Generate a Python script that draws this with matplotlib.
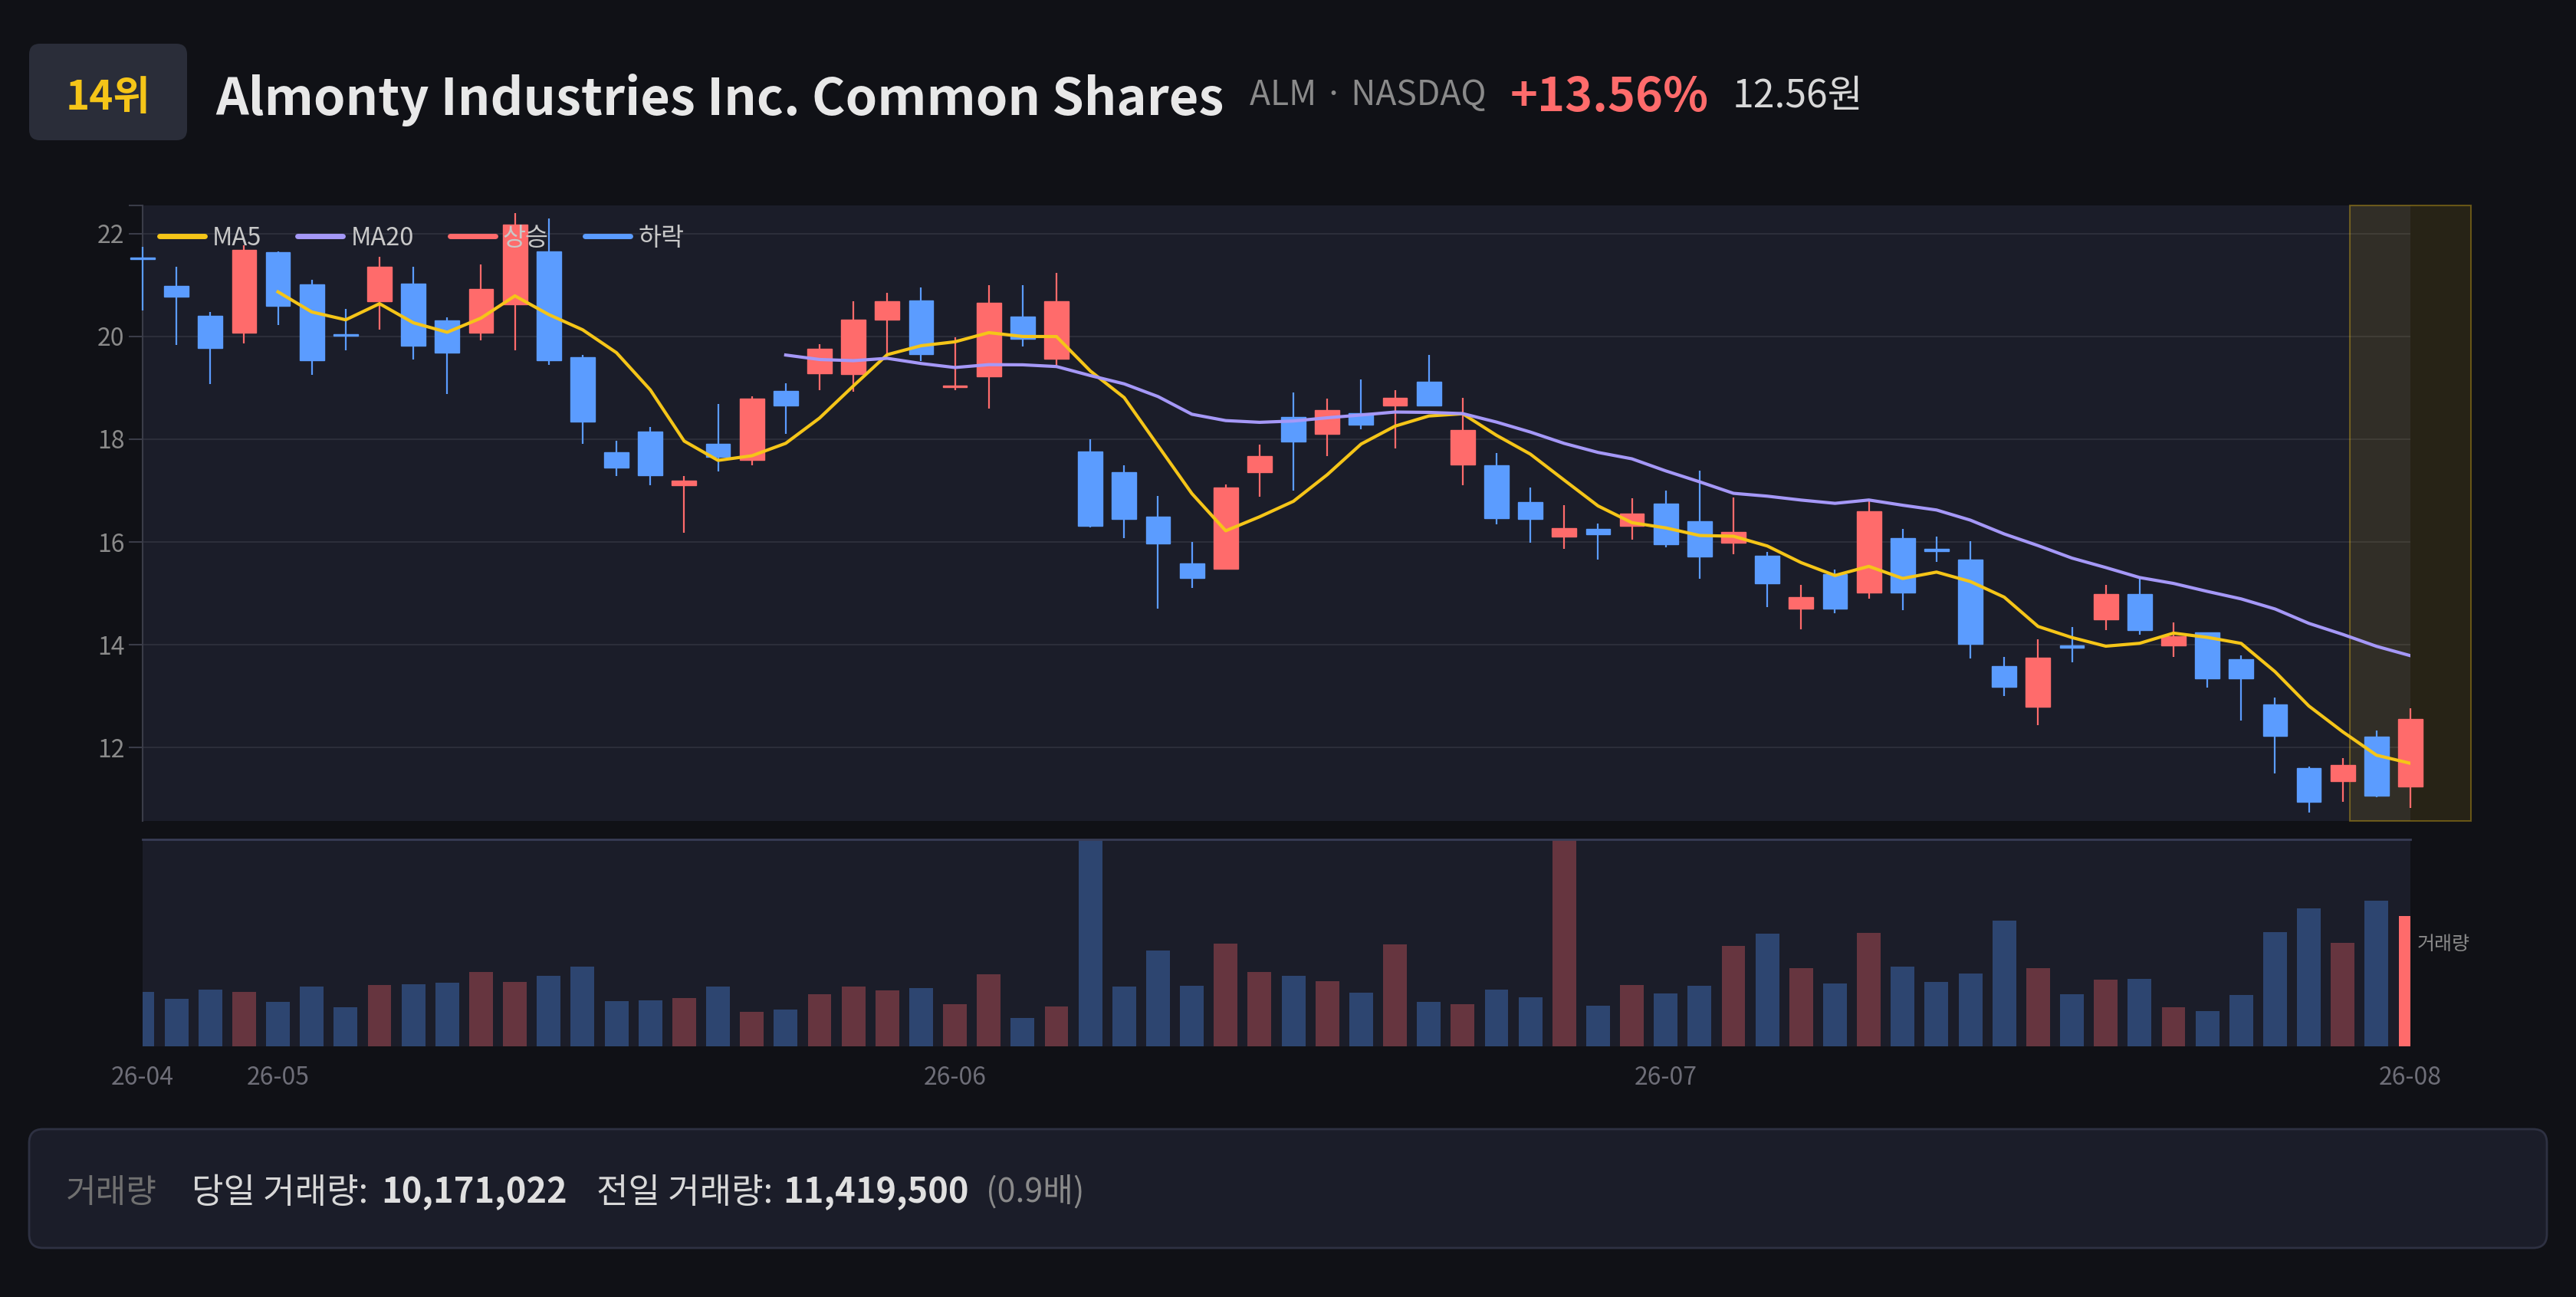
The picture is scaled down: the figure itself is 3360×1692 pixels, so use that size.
import numpy as np
import pandas as pd
import matplotlib.pyplot as plt
from matplotlib.patches import FancyBboxPatch, Rectangle
from matplotlib.lines import Line2D
from matplotlib.transforms import IdentityTransform

plt.rcParams['font.family'] = ['Noto Sans CJK KR', 'DejaVu Sans']

# daily candles (2026-04-27 .. 2026-08-03)
opens = [21.52, 20.98, 20.40, 20.08, 21.64, 21.01, 20.05, 20.69, 21.03, 20.31,
         20.08, 20.62, 21.66, 19.60, 17.75, 18.15, 17.10, 17.91, 17.60, 18.94,
         19.28, 19.27, 20.33, 20.70, 19.02, 19.22, 20.38, 19.56, 17.76, 17.36,
         16.49, 15.59, 15.48, 17.36, 18.43, 18.10, 18.50, 18.66, 19.12, 17.50,
         17.49, 16.78, 16.10, 16.26, 16.32, 16.75, 16.40, 15.99, 15.73, 14.71,
         15.38, 15.01, 16.07, 15.86, 15.66, 13.58, 12.80, 13.98, 14.50, 14.98,
         13.98, 14.24, 13.72, 12.84, 11.60, 11.34, 12.21, 11.24]
closes = [21.50, 20.78, 19.78, 21.68, 20.60, 19.54, 20.02, 21.35, 19.82, 19.68,
          20.92, 22.18, 19.53, 18.34, 17.45, 17.30, 17.20, 17.65, 18.79, 18.66,
          19.76, 20.33, 20.69, 19.66, 19.04, 20.65, 19.96, 20.68, 16.31, 16.45,
          15.97, 15.30, 17.06, 17.67, 17.96, 18.56, 18.28, 18.80, 18.66, 18.18,
          16.46, 16.45, 16.27, 16.15, 16.55, 15.95, 15.71, 16.20, 15.20, 14.93,
          14.70, 16.60, 15.02, 15.82, 14.01, 13.18, 13.75, 13.94, 14.98, 14.29,
          14.17, 13.34, 13.35, 12.23, 10.95, 11.66, 11.06, 12.56]
highs = [21.75, 21.35, 20.47, 21.78, 21.65, 21.10, 20.53, 21.55, 21.35, 20.37,
         21.40, 22.40, 22.30, 19.64, 17.97, 18.24, 17.28, 18.68, 18.83, 19.09,
         19.85, 20.68, 20.85, 20.95, 19.99, 21.00, 21.00, 21.24, 18.00, 17.49,
         16.89, 16.00, 17.12, 17.90, 18.91, 18.79, 19.16, 18.95, 19.64, 18.80,
         17.73, 17.06, 16.71, 16.36, 16.85, 17.00, 17.39, 16.87, 15.81, 15.16,
         15.47, 16.79, 16.26, 16.11, 16.02, 13.76, 14.11, 14.34, 15.16, 15.29,
         14.44, 14.24, 13.79, 12.97, 11.63, 11.80, 12.33, 12.76]
lows = [20.50, 19.83, 19.08, 19.86, 20.23, 19.26, 19.73, 20.14, 19.55, 18.88,
        19.92, 19.73, 19.45, 17.91, 17.28, 17.10, 16.18, 17.37, 17.49, 18.10,
        18.96, 18.93, 19.64, 19.52, 18.95, 18.60, 19.81, 19.42, 16.29, 16.08,
        14.70, 15.11, 15.47, 16.88, 17.00, 17.67, 18.20, 17.82, 18.65, 17.10,
        16.34, 15.98, 15.86, 15.66, 16.04, 15.90, 15.29, 15.76, 14.73, 14.30,
        14.62, 14.90, 14.68, 15.61, 13.73, 13.00, 12.44, 13.66, 14.29, 14.20,
        13.76, 13.17, 12.52, 11.49, 10.74, 10.95, 11.03, 10.83]
volumes = [4.26e6, 3.70e6, 4.46e6, 4.26e6, 3.48e6, 4.68e6, 3.04e6, 4.78e6, 4.86e6, 4.96e6,
           5.80e6, 5.02e6, 5.52e6, 6.22e6, 3.54e6, 3.62e6, 3.80e6, 4.68e6, 2.70e6, 2.86e6,
           4.06e6, 4.66e6, 4.36e6, 4.54e6, 3.30e6, 5.62e6, 2.20e6, 3.14e6, 17.5e6, 4.66e6,
           7.48e6, 4.74e6, 8.06e6, 5.84e6, 5.50e6, 5.08e6, 4.18e6, 7.96e6, 3.46e6, 3.30e6,
           4.46e6, 3.82e6, 18.0e6, 3.16e6, 4.78e6, 4.12e6, 4.76e6, 7.88e6, 8.84e6, 6.10e6,
           4.90e6, 8.88e6, 6.26e6, 5.04e6, 5.68e6, 9.82e6, 6.10e6, 4.10e6, 5.20e6, 5.28e6,
           3.06e6, 2.76e6, 4.00e6, 8.96e6, 10.80e6, 8.10e6, 11419500, 10171022]

tick_idx = [0, 4, 24, 45, 67]
tick_labels = ["26-04", "26-05", "26-06", "26-07", "26-08"]

BG = "#101116"
PANEL = "#1b1d29"
UP, DOWN = "#ff6b6b", "#5b9cff"
UP_DIM, DOWN_DIM = "#66353f", "#2d4570"
MA5_C, MA20_C = "#f5c518", "#a598f7"
W, H = 3360, 1692


def fx(x):
    return x / W


def fy(y):
    return 1 - y / H


fig = plt.figure(figsize=(W / 100, H / 100), dpi=100, facecolor=BG)

# ── price panel ───────────────────────────────────────────────────────────────
ax = fig.add_axes([fx(186), fy(1071), fx(3144) - fx(186), fy(268) - fy(1071)])
ax.set_facecolor(PANEL)

x = np.arange(len(closes))
o = np.array(opens)
c = np.array(closes)
up = c >= o
colors = np.where(up, UP, DOWN)
ylo, yhi = 10.57, 22.55

ax.add_patch(Rectangle((65.2, ylo), 3.6, yhi - ylo, facecolor=(0.96, 0.77, 0.09, 0.10),
                       edgecolor=(0.96, 0.77, 0.09, 0.35), lw=1.5, zorder=2, clip_on=False))

wicks = ax.vlines(x, lows, highs, colors=colors, lw=1.6, zorder=3)
wicks.set_clip_on(False)
bodies = ax.bar(x, np.maximum(np.abs(c - o), 0.03), 0.72, bottom=np.minimum(o, c),
                color=colors, edgecolor=colors, lw=1, zorder=4)
for b in bodies:
    b.set_clip_on(False)

ma5 = pd.Series(closes).rolling(5).mean()
ma20 = pd.Series(closes).rolling(20).mean()
ax.plot(x, ma5, color=MA5_C, lw=3, zorder=5)
ax.plot(x, ma20, color=MA20_C, lw=3, zorder=5)

ax.set_xlim(0, 67)
ax.set_ylim(ylo, yhi)
ax.set_xticks([])
ax.set_yticks([12, 14, 16, 18, 20, 22])
ax.set_yticks([yhi], minor=True)
ax.tick_params(axis="y", which="both", length=13, width=1.5, color="#3a3c48",
               labelcolor="#8a8a8a", labelsize=23, pad=4)
ax.yaxis.grid(True, color="#2c2e3a", lw=1.5)
ax.set_axisbelow(True)
for s in ["top", "right", "bottom"]:
    ax.spines[s].set_visible(False)
ax.spines["left"].set_color("#3a3c48")
ax.spines["left"].set_linewidth(1.5)

handles = [Line2D([], [], color=col, lw=5, solid_capstyle="round") for col in (MA5_C, MA20_C, UP, DOWN)]
ax.legend(handles, ["MA5", "MA20", "상승", "하락"], ncol=4, loc="center left",
          bbox_to_anchor=(0.0074, 0.947), frameon=False, fontsize=23.5, labelcolor="#c8c8c8",
          handlelength=1.8, handletextpad=0.31, columnspacing=1.45, borderpad=0, borderaxespad=0)

# ── volume panel ──────────────────────────────────────────────────────────────
axv = fig.add_axes([fx(186), fy(1365), fx(3144) - fx(186), fy(1095) - fy(1365)])
axv.set_facecolor(PANEL)
vcolors = list(np.where(up, UP_DIM, DOWN_DIM))
vcolors[-1] = UP
axv.bar(x, np.array(volumes) / 1e6, 0.7, color=vcolors)
axv.set_xlim(0, 67)
axv.set_ylim(0, 16.2)
axv.set_yticks([])
axv.set_xticks(tick_idx)
axv.set_xticklabels(tick_labels)
axv.tick_params(axis="x", length=0, labelcolor="#6e6e78", labelsize=23, pad=18)
for s in ["right", "bottom", "left"]:
    axv.spines[s].set_visible(False)
axv.spines["top"].set_color("#383c55")
axv.spines["top"].set_linewidth(2)
fig.text(fx(3153), fy(1232), "거래량", color="#8a8a8a", fontsize=18, va="center", ha="left")

# ── header ────────────────────────────────────────────────────────────────────
fig.add_artist(FancyBboxPatch((38, H - 183), 206, 126, boxstyle="round,pad=0,rounding_size=14",
                              facecolor="#2a2d39", edgecolor="none", transform=IdentityTransform()))
fig.text(fx(141), fy(143), "14위", color="#f5c518", fontsize=38, fontweight="bold",
         ha="center", va="baseline")
fig.text(fx(281), fy(150), "Almonty Industries Inc. Common Shares", color="#e8e8e8",
         fontsize=48, fontweight="bold", va="baseline")
fig.text(fx(1630), fy(137), "ALM · NASDAQ", color="#8a8a8a", fontsize=32, va="baseline")
fig.text(fx(1970), fy(145), "+13.56%", color=UP, fontsize=44, fontweight="bold", va="baseline")
fig.text(fx(2260), fy(140), "12.56원", color="#d8d8d8", fontsize=36, va="baseline")

# ── footer ────────────────────────────────────────────────────────────────────
fig.add_artist(FancyBboxPatch((38, H - 1628), 3284, 155, boxstyle="round,pad=0,rounding_size=18",
                              facecolor=PANEL, edgecolor="#2e3142", lw=2, transform=IdentityTransform()))
fy_base = fy(1569)
fig.text(fx(86), fy_base, "거래량", color="#707070", fontsize=31, va="baseline")
fig.text(fx(250), fy_base, "당일 거래량:", color="#d8d8d8", fontsize=32.5, va="baseline")
fig.text(fx(497), fy_base, "10,171,022", color="#e0e0e0", fontsize=32.5, fontweight="bold", va="baseline")
fig.text(fx(778), fy_base, "전일 거래량:", color="#d8d8d8", fontsize=32.5, va="baseline")
fig.text(fx(1021), fy_base, "11,419,500", color="#e0e0e0", fontsize=32.5, fontweight="bold", va="baseline")
fig.text(fx(1286), fy_base, "(0.9배)", color="#8a8a8a", fontsize=31, va="baseline")

fig.savefig("out.png", dpi=100, facecolor=BG)
